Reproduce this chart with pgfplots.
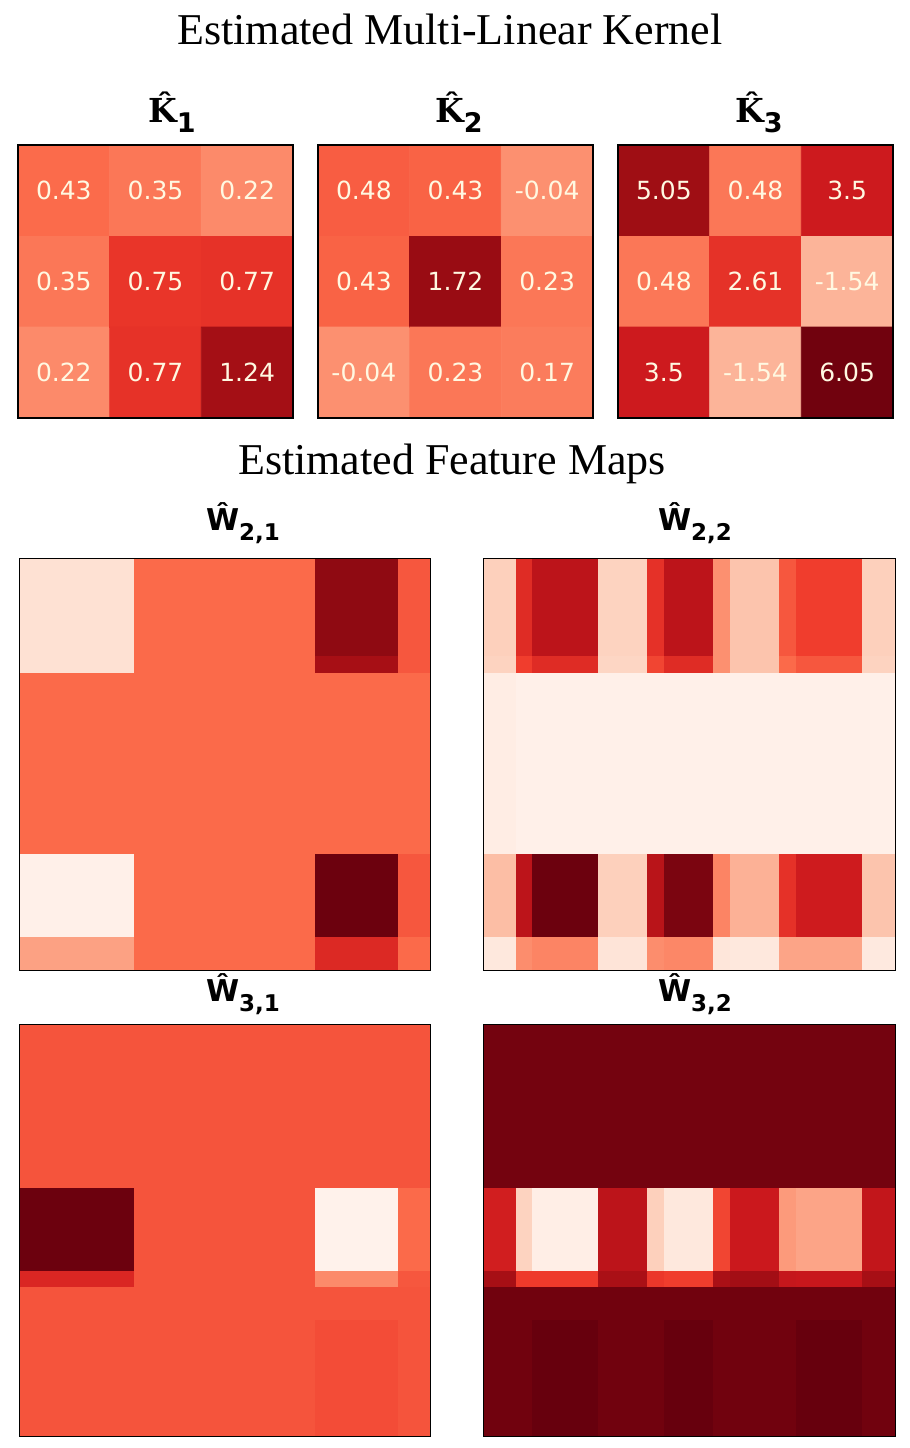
\documentclass[border=0pt]{standalone}
\usepackage{pgfplots}
\usepackage{pgfplotstable}
\pgfplotsset{compat=1.18}
\usepackage{fontspec}
\setmainfont{Liberation Serif}
\newfontfamily\dejavu{DejaVu Sans}
\newfontfamily\djserif{DejaVu Serif}
\newcommand{\kttl}[1]{{\djserif\bfseries\fontsize{16.5}{18}\selectfont K^^^^0302}\raisebox{-5pt}{\dejavu\bfseries\fontsize{13.5}{15}\selectfont #1}}
\newcommand{\wttl}[1]{{\dejavu\bfseries\fontsize{15}{17}\selectfont W^^^^0302}\raisebox{-5pt}{\dejavu\bfseries\fontsize{11.5}{13}\selectfont #1}}
\definecolor{numtxt}{RGB}{255,248,225}
\pgfplotsset{colormap={reds}{rgb255=(255,245,240) rgb255=(254,224,210) rgb255=(252,187,161) rgb255=(252,146,114) rgb255=(251,106,74) rgb255=(239,59,44) rgb255=(203,24,29) rgb255=(165,15,21) rgb255=(103,0,13)}}
\pgfplotsset{
kern/.style={anchor=north west, scale only axis, width=137.5pt, height=136.5pt, xmin=-0.5,xmax=2.5,ymin=-0.5,ymax=2.5, y dir=reverse, ticks=none, axis on top, colormap name=reds, axis line style={line width=0.8pt}},
fmap/.style={anchor=north west, scale only axis, width=206pt, height=206pt, xmin=0,xmax=25,ymin=0,ymax=25, y dir=reverse, ticks=none, axis on top, colormap name=reds, point meta min=0, point meta max=1, axis line style={line width=0.5pt}},
klab/.style={draw=none, mark=none, nodes near coords, point meta=explicit symbolic, every node near coord/.append style={anchor=center, font=\dejavu\fontsize{12.5}{14}\selectfont, text=numtxt, inner sep=0pt}}
}
\pgfplotstableread{
x y c
0 0 0.43
1 0 0.35
2 0 0.22
0 1 0.35
1 1 0.75
2 1 0.77
0 2 0.22
1 2 0.77
2 2 1.24
}\Kone
\pgfplotstableread{
x y c
0 0 0.48
1 0 0.43
2 0 -0.04
0 1 0.43
1 1 1.72
2 1 0.23
0 2 -0.04
1 2 0.23
2 2 0.17
}\Ktwo
\pgfplotstableread{
x y c
0 0 5.05
1 0 0.48
2 0 3.5
0 1 0.48
1 1 2.61
2 1 -1.54
0 2 3.5
1 2 -1.54
2 2 6.05
}\Kthree
\pgfplotstableread{
x y c
0 0 0.12
7 0 0.5
18 0 0.92
23 0 0.55
25 0 0.55
0 6 0.12
7 6 0.5
18 6 0.87
23 6 0.55
25 6 0.55
0 7 0.5
7 7 0.5
18 7 0.5
23 7 0.5
25 7 0.5
0 18 0.03
7 18 0.5
18 18 0.99
23 18 0.55
25 18 0.55
0 23 0.33
7 23 0.5
18 23 0.69
23 23 0.5
25 23 0.5
0 25 0.33
7 25 0.5
18 25 0.69
23 25 0.5
25 25 0.5
}\Wtwoone
\pgfplotstableread{
x y c
0 0 0.18
2 0 0.68
3 0 0.80
7 0 0.17
10 0 0.66
11 0 0.80
14 0 0.38
15 0 0.22
18 0 0.55
19 0 0.62
23 0 0.18
25 0 0.18
0 6 0.17
2 6 0.62
3 6 0.68
7 6 0.16
10 6 0.60
11 6 0.68
14 6 0.38
15 6 0.22
18 6 0.50
19 6 0.55
23 6 0.17
25 6 0.17
0 7 0.05
2 7 0.03
3 7 0.03
7 7 0.03
10 7 0.03
11 7 0.03
14 7 0.03
15 7 0.03
18 7 0.03
19 7 0.03
23 7 0.03
25 7 0.03
0 18 0.24
2 18 0.80
3 18 0.99
7 18 0.18
10 18 0.81
11 18 0.96
14 18 0.42
15 18 0.28
18 18 0.66
19 18 0.74
23 18 0.22
25 18 0.22
0 23 0.08
2 23 0.39
3 23 0.42
7 23 0.10
10 23 0.39
11 23 0.41
14 23 0.09
15 23 0.08
18 23 0.32
19 23 0.32
23 23 0.07
25 23 0.07
0 25 0.08
2 25 0.39
3 25 0.42
7 25 0.10
10 25 0.39
11 25 0.41
14 25 0.09
15 25 0.08
18 25 0.32
19 25 0.32
23 25 0.07
25 25 0.07
}\Wtwotwo
\pgfplotstableread{
x y c
0 0 0.56
7 0 0.56
18 0 0.56
23 0 0.56
25 0 0.56
0 10 0.99
7 10 0.56
18 10 0.02
23 10 0.5
25 10 0.5
0 15 0.70
7 15 0.56
18 15 0.40
23 15 0.55
25 15 0.55
0 16 0.56
7 16 0.56
18 16 0.56
23 16 0.56
25 16 0.56
0 18 0.56
7 18 0.56
18 18 0.58
23 18 0.56
25 18 0.56
0 25 0.56
7 25 0.56
18 25 0.58
23 25 0.56
25 25 0.56
}\Wthreeone
\pgfplotstableread{
x y c
0 0 0.975
2 0 0.975
3 0 0.975
7 0 0.975
10 0 0.975
11 0 0.975
14 0 0.975
15 0 0.975
18 0 0.975
19 0 0.975
23 0 0.975
25 0 0.975
0 10 0.73
2 10 0.17
3 10 0.04
7 10 0.80
10 10 0.18
11 10 0.08
14 10 0.60
15 10 0.75
18 10 0.35
19 10 0.32
23 10 0.78
25 10 0.78
0 15 0.87
2 15 0.63
3 15 0.63
7 15 0.86
10 15 0.64
11 15 0.62
14 15 0.86
15 15 0.88
18 15 0.77
19 15 0.76
23 15 0.87
25 15 0.87
0 16 0.98
2 16 0.98
3 16 0.98
7 16 0.98
10 16 0.98
11 16 0.98
14 16 0.98
15 16 0.98
18 16 0.98
19 16 0.98
23 16 0.98
25 16 0.98
0 18 0.98
2 18 0.98
3 18 1.0
7 18 0.98
10 18 0.98
11 18 1.0
14 18 0.98
15 18 0.98
18 18 0.98
19 18 1.0
23 18 0.98
25 18 0.98
0 25 0.98
2 25 0.98
3 25 1.0
7 25 0.98
10 25 0.98
11 25 1.0
14 25 0.98
15 25 0.98
18 25 0.98
19 25 1.0
23 25 0.98
25 25 0.98
}\Wthreetwo
\begin{document}
\begin{tikzpicture}
\path[use as bounding box] (0,0) rectangle (455pt,-724pt);
\node[anchor=base, font=\fontsize{22}{26}\selectfont] at (225pt,-22pt) {Estimated Multi-Linear Kernel};
\node[anchor=base, font=\fontsize{22}{26}\selectfont] at (226pt,-237pt) {Estimated Feature Maps};
\node[anchor=base, inner sep=0pt] at (86pt,-61pt) {\kttl{1}};
\node[anchor=base, inner sep=0pt] at (229.5pt,-61pt) {\kttl{2}};
\node[anchor=base, inner sep=0pt] at (379.5pt,-61pt) {\kttl{3}};
\node[anchor=base, inner sep=0pt] at (121.5pt,-265pt) {\wttl{2,1}};
\node[anchor=base, inner sep=0pt] at (347.5pt,-265pt) {\wttl{2,2}};
\node[anchor=base, inner sep=0pt] at (121.5pt,-500.5pt) {\wttl{3,1}};
\node[anchor=base, inner sep=0pt] at (347.5pt,-500.5pt) {\wttl{3,2}};
\begin{axis}[kern, at={(9pt,-72.5pt)}, point meta min=-0.63, point meta max=1.5]
\addplot[matrix plot*, mesh/cols=3, point meta=explicit] table[meta=c] {\Kone};
\addplot[klab] table[x=x, y=y, meta=c] {\Kone};
\end{axis}
\begin{axis}[kern, at={(159pt,-72.5pt)}, point meta min=-1.33, point meta max=2.06]
\addplot[matrix plot*, mesh/cols=3, point meta=explicit] table[meta=c] {\Ktwo};
\addplot[klab] table[x=x, y=y, meta=c] {\Ktwo};
\end{axis}
\begin{axis}[kern, at={(309pt,-72.5pt)}, point meta min=-4.43, point meta max=6.26]
\addplot[matrix plot*, mesh/cols=3, point meta=explicit] table[meta=c] {\Kthree};
\addplot[klab] table[x=x, y=y, meta=c] {\Kthree};
\end{axis}
\begin{axis}[fmap, at={(9.5pt,-279pt)}]
\addplot[surf, shader=flat corner, mesh/cols=5, point meta=explicit] table[meta=c] {\Wtwoone};
\end{axis}
\begin{axis}[fmap, at={(241.5pt,-279pt)}]
\addplot[surf, shader=flat corner, mesh/cols=12, point meta=explicit] table[meta=c] {\Wtwotwo};
\end{axis}
\begin{axis}[fmap, at={(9.5pt,-512pt)}]
\addplot[surf, shader=flat corner, mesh/cols=5, point meta=explicit] table[meta=c] {\Wthreeone};
\end{axis}
\begin{axis}[fmap, at={(241.5pt,-512pt)}]
\addplot[surf, shader=flat corner, mesh/cols=12, point meta=explicit] table[meta=c] {\Wthreetwo};
\end{axis}
\end{tikzpicture}
\end{document}
